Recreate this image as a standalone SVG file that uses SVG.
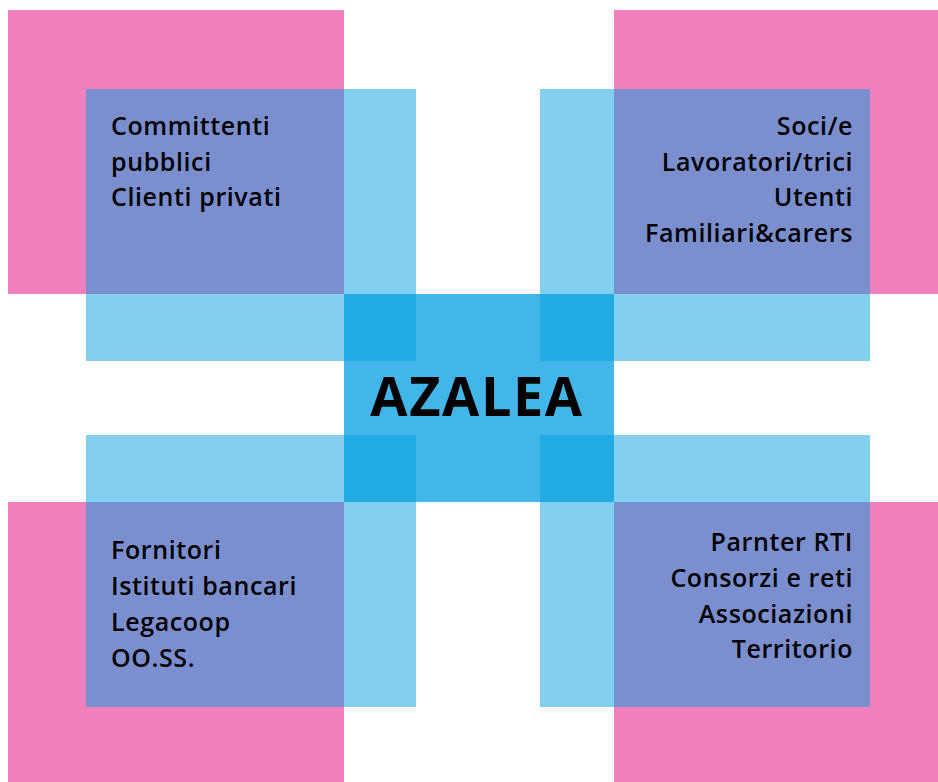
<svg xmlns="http://www.w3.org/2000/svg" width="938" height="782" viewBox="0 0 938 782">
<style>
.pink{fill:#F280BE}
.lb{fill:#82CFF0}
.pu{fill:#7B8FCF}
.ce{fill:#42B6E9}
.dk{fill:#21AAE4}
.t{font-family:"Open Sans","Liberation Sans",sans-serif;font-size:25px;font-weight:600;fill:#000;letter-spacing:0.6px}
.r{text-anchor:end}
.big{font-family:"Open Sans","Liberation Sans",sans-serif;font-size:54px;font-weight:700;fill:#000;letter-spacing:1.6px;text-anchor:middle}
</style>
<rect width="938" height="782" fill="#FFFFFF"/>
<g id="pinks">
<rect class="pink" x="8" y="10" width="336" height="284"/>
<rect class="pink" x="614" y="10" width="324" height="284"/>
<rect class="pink" x="8" y="502" width="336" height="280"/>
<rect class="pink" x="614" y="502" width="324" height="280"/>
</g>
<g id="bands">
<rect class="lb" x="344" y="89" width="72" height="618"/>
<rect class="lb" x="540" y="89" width="74" height="618"/>
<rect class="lb" x="86" y="294" width="784" height="67"/>
<rect class="lb" x="86" y="435" width="784" height="67"/>
</g>
<g id="node-tl">
<rect class="pu" x="86" y="89" width="258" height="205"/>
<text class="t" x="111" y="135">Committenti</text>
<text class="t" x="111" y="171">pubblici</text>
<text class="t" x="111" y="206">Clienti privati</text>
</g>
<g id="node-tr">
<rect class="pu" x="614" y="89" width="256" height="205"/>
<text class="t r" x="853" y="135">Soci/e</text>
<text class="t r" x="853" y="171">Lavoratori/trici</text>
<text class="t r" x="853" y="206">Utenti</text>
<text class="t r" x="853" y="242">Familiari&amp;carers</text>
</g>
<g id="node-bl">
<rect class="pu" x="86" y="502" width="258" height="205"/>
<text class="t" x="111" y="559">Fornitori</text>
<text class="t" x="111" y="595">Istituti bancari</text>
<text class="t" x="111" y="631">Legacoop</text>
<text class="t" x="111" y="667">OO.SS.</text>
</g>
<g id="node-br">
<rect class="pu" x="614" y="502" width="256" height="205"/>
<text class="t r" x="853" y="551">Parnter RTI</text>
<text class="t r" x="853" y="587">Consorzi e reti</text>
<text class="t r" x="853" y="623">Associazioni</text>
<text class="t r" x="853" y="658">Territorio</text>
</g>
<g id="node-center">
<rect class="ce" x="344" y="294" width="270" height="208"/>
<rect class="dk" x="344" y="294" width="72" height="67"/>
<rect class="dk" x="540" y="294" width="74" height="67"/>
<rect class="dk" x="344" y="435" width="72" height="67"/>
<rect class="dk" x="540" y="435" width="74" height="67"/>
<text class="big" x="477" y="416">AZALEA</text>
</g>
<g id="connectors"></g>
</svg>
